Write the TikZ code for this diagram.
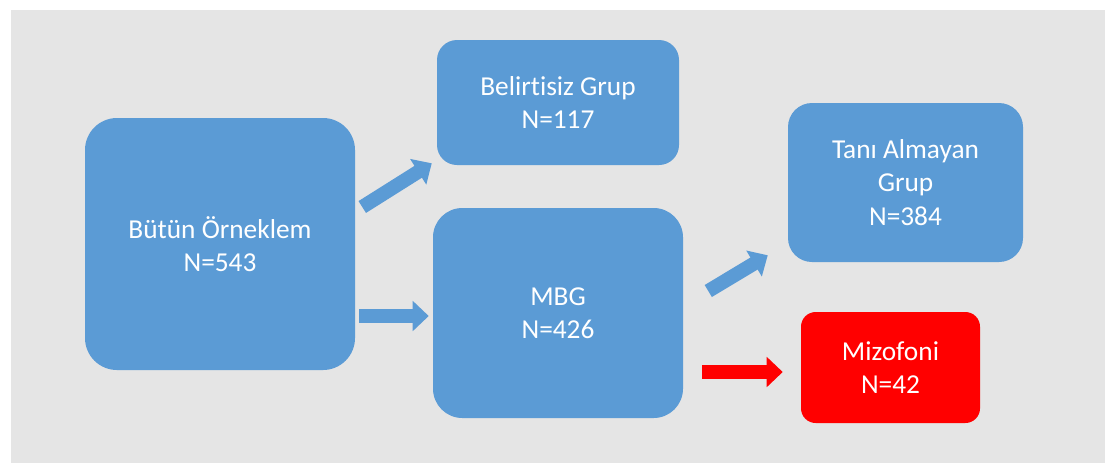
\documentclass[tikz,border=0pt]{standalone}
\usepackage{fontspec}
\setmainfont{Carlito}[Ligatures=NoCommon]
\usepackage{tikz}
\usetikzlibrary{arrows.meta,positioning,calc}

\definecolor{boxblue}{RGB}{91,155,213}
\definecolor{bggray}{RGB}{229,229,229}
\definecolor{mizred}{RGB}{255,0,0}

\begin{document}
\begin{tikzpicture}[
  x=0.75pt, y=-0.75pt,
  every node/.style={rectangle, fill=boxblue, text=white, align=center,
    font=\fontsize{20.5}{25}\selectfont, inner sep=0pt},
  blockarrow/.style={draw=boxblue, line width=10.5pt, -{Triangle[length=12pt,width=22pt]}}
]
\useasboundingbox (0,0) rectangle (1105,462);
\fill[bggray] (11,10) rectangle (1115,472);

\node[minimum width=202.5pt, minimum height=189pt, rounded corners=24pt] (all) at (220,244) {Bütün Örneklem\\N=543};
\node[minimum width=181.5pt, minimum height=93.75pt, rounded corners=15pt] (bel) at (558,102.5) {Belirtisiz Grup\\N=117};
\node[minimum width=187.5pt, minimum height=157.5pt, rounded corners=22pt] (mbg) at (558,313) {MBG\\N=426};
\node[minimum width=176.25pt, minimum height=119.25pt, rounded corners=18pt] (tani) at (905.5,182.5) {Tanı Almayan\\Grup\\N=384};
\node[fill=mizred, minimum width=134.25pt, minimum height=83.25pt, rounded corners=11pt] (miz) at (890.5,367.5) {Mizofoni\\N=42};

% arrows between the groups
\draw[blockarrow] ($(all.east)+(7,-37)$) -- ($(bel.south west)+(-5,-2)$);
\draw[blockarrow] ($(all.east)+(4,72)$) -- ($(mbg.west)+(-4,3)$);
\draw[blockarrow] ($(mbg.east)+(25,-22)$) -- ($(tani.south west)+(-20,-7)$);
\draw[blockarrow, draw=mizred] ($(mbg.east)+(19,59)$) -- ($(miz.west)+(-18,4.5)$);
\end{tikzpicture}
\end{document}
